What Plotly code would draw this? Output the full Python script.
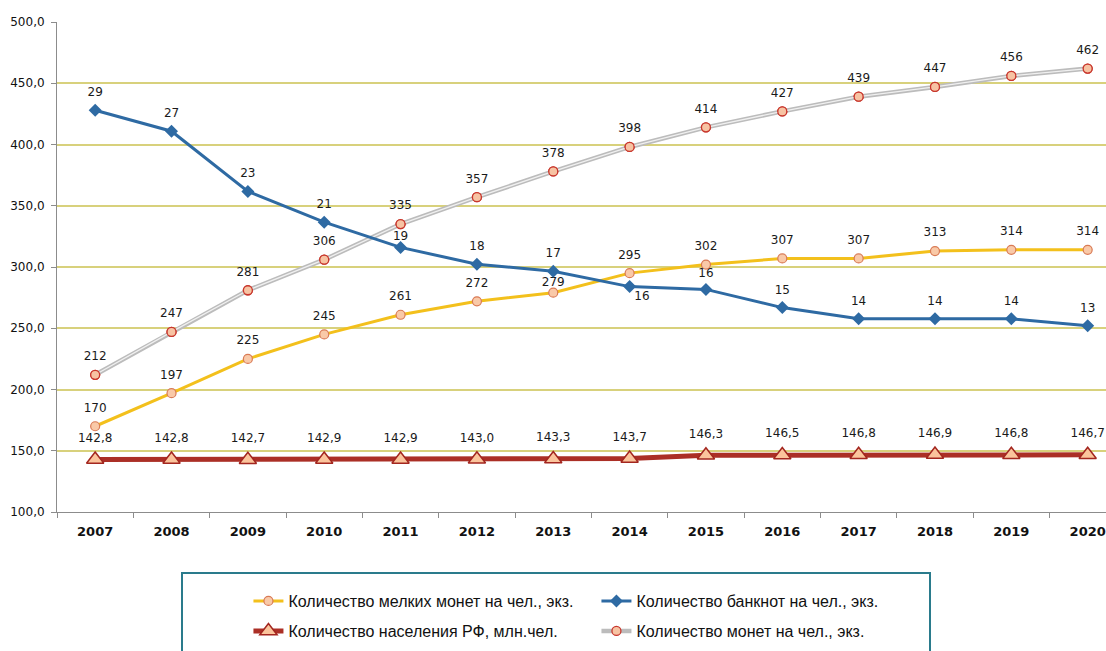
import plotly.graph_objects as go

years = ["2007", "2008", "2009", "2010", "2011", "2012", "2013",
         "2014", "2015", "2016", "2017", "2018", "2019", "2020"]
small_coins = [170, 197, 225, 245, 261, 272, 279, 295, 302, 307, 307, 313, 314, 314]
banknotes = [28.7, 27.2, 22.9, 20.7, 18.9, 17.7, 17.2, 16.1, 15.9, 14.6, 13.8, 13.8, 13.8, 13.3]
population = [142.8, 142.8, 142.7, 142.9, 142.9, 143.0, 143.3, 143.7, 146.3, 146.5, 146.8, 146.9, 146.8, 146.7]
coins = [212, 247, 281, 306, 335, 357, 378, 398, 414, 427, 439, 447, 456, 462]

name_small = "Количество мелких монет на чел., экз."
name_bank = "Количество банкнот на чел., экз."
name_pop = "Количество населения РФ, млн.чел."
name_coins = "Количество монет на чел., экз."

LBL_FONT = dict(family="DejaVu Sans", size=12, color="#1a1a1a")
LEG_FONT = dict(family="Liberation Sans, Arial", size=16, color="#111111")
CLEAR = "rgba(0,0,0,0)"

fig = go.Figure()

# small coins (yellow)
fig.add_trace(go.Scatter(
    x=years, y=small_coins, name=name_small, mode="lines+markers",
    line=dict(color="#f3c01c", width=3),
    marker=dict(symbol="circle", size=9, color="#f9c9a8", line=dict(color="#d97a55", width=1.2)),
    legend="legend",
))
# banknotes (blue, secondary hidden axis)
fig.add_trace(go.Scatter(
    x=years, y=banknotes, name=name_bank, mode="lines+markers", yaxis="y2",
    line=dict(color="#2e6aa3", width=3),
    marker=dict(symbol="diamond", size=10, color="#2e6aa3"),
    legend="legend",
))
# population (dark red, triangles)
fig.add_trace(go.Scatter(
    x=years, y=population, name=name_pop, mode="lines+markers",
    line=dict(color="#ab2f26", width=5),
    marker=dict(symbol="triangle-up", size=15, color="#fbc49c", line=dict(color="#a3261f", width=1.5)),
    legend="legend2",
))
# coins (gray double line)
fig.add_trace(go.Scatter(
    x=years, y=coins, name=name_coins, mode="lines+markers",
    line=dict(color="#bcbcbc", width=4.5),
    marker=dict(symbol="circle", size=9, color="#f7c3a3", line=dict(color="#c8372d", width=1.3)),
    legend="legend2",
))
fig.add_trace(go.Scatter(
    x=years, y=coins, mode="lines", showlegend=False, hoverinfo="skip",
    line=dict(color="#f0f0f0", width=1.3),
))
fig.add_trace(go.Scatter(
    x=years, y=coins, mode="markers", showlegend=False, hoverinfo="skip",
    marker=dict(symbol="circle", size=9, color="#f7c3a3", line=dict(color="#c8372d", width=1.3)),
))


def label_trace(yvals, texts, msize, positions="top center", yaxis="y"):
    return go.Scatter(
        x=years, y=yvals, mode="markers+text", text=texts, yaxis=yaxis,
        textposition=positions, textfont=LBL_FONT, cliponaxis=False,
        marker=dict(size=msize, color=CLEAR, line=dict(width=0)),
        showlegend=False, hoverinfo="skip",
    )


small_size = [4.5 if y == "2013" else 17 for y in years]
fig.add_trace(label_trace(small_coins, [f"{v}" for v in small_coins], small_size))
fig.add_trace(label_trace(coins, [f"{v}" for v in coins], 17))
fig.add_trace(label_trace(population, [f"{v:.1f}".replace(".", ",") for v in population], 22))
bank_pos = ["bottom right" if y == "2014" else "top center" for y in years]
bank_size = [6 if y in ("2014", "2011") else (13 if y == "2015" else 16) for y in years]
fig.add_trace(label_trace(banknotes, [f"{v:.0f}" for v in banknotes], bank_size, bank_pos, "y2"))

fig.update_layout(
    width=1106, height=651,
    margin=dict(l=57, r=0, t=22, b=139, autoexpand=False),
    paper_bgcolor="white", plot_bgcolor="white",
    separators=", ",
    showlegend=True,
    xaxis=dict(
        type="category", range=[-0.5, 13.24],
        showgrid=False, showline=True, linecolor="#8c8c8c", linewidth=1,
        ticks="outside", tickson="boundaries", ticklen=5, tickcolor="#8c8c8c",
        tickfont=dict(family="DejaVu Sans", size=13, color="#111111", weight="bold"),
        ticklabelstandoff=7,
        zeroline=False, fixedrange=True,
    ),
    yaxis=dict(
        range=[100, 500], dtick=50, tick0=100, tickformat=".1f",
        showgrid=True, gridcolor="#d8d17c", gridwidth=1.5,
        showline=True, linecolor="#8c8c8c", linewidth=1,
        ticks="outside", ticklen=5, tickcolor="#8c8c8c",
        tickfont=dict(family="DejaVu Sans", size=12, color="#111111"),
        ticklabelstandoff=4,
        zeroline=False,
    ),
    yaxis2=dict(range=[0, 35], overlaying="y", side="right", visible=False),
    legend=dict(
        orientation="h", x=0.1825, xanchor="left", y=-0.1816, yanchor="middle",
        entrywidth=303, entrywidthmode="pixels",
        font=LEG_FONT, bgcolor=CLEAR, borderwidth=0,
        itemclick=False, itemdoubleclick=False,
    ),
    legend2=dict(
        orientation="h", x=0.1825, xanchor="left", y=-0.2429, yanchor="middle",
        entrywidth=303, entrywidthmode="pixels",
        font=LEG_FONT, bgcolor=CLEAR, borderwidth=0,
        itemclick=False, itemdoubleclick=False,
    ),
    shapes=[dict(
        type="rect", xref="paper", yref="paper",
        x0=(182 - 57) / 1049, x1=(930 - 57) / 1049,
        y0=(512 - 573) / 490, y1=(512 - 665) / 490,
        line=dict(color="#2a7b8c", width=2), fillcolor=CLEAR, layer="below",
    )],
)

fig.write_html("out.html")
